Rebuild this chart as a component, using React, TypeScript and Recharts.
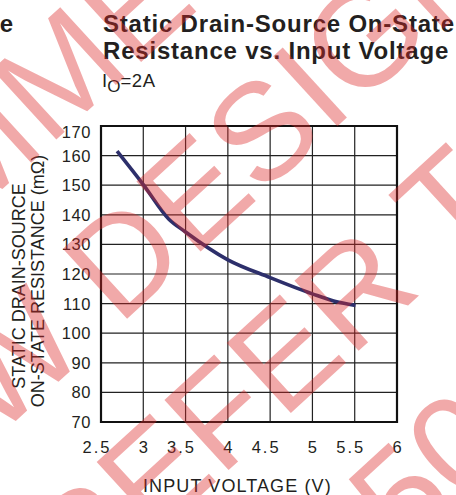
import React from "react";
import {
  LineChart,
  Line,
  XAxis,
  YAxis,
  CartesianGrid,
  ReferenceArea,
} from "recharts";

// ---- data ----
const VOLTAGE = [2.69, 3.0, 3.3, 3.5, 4.0, 4.5, 5.0, 5.25, 5.51];
const RESISTANCE = [161.5, 150.2, 138.6, 134.2, 124.8, 118.8, 113.3, 110.9, 109.4];
const X_TICKS = [2.5, 3, 3.5, 4, 4.5, 5, 5.5, 6];
const X_TICK_LABELS = ["2.5", "3", "3.5", "4", "4.5", "5", "5.5", "6"];
const Y_TICKS = [70, 80, 90, 100, 110, 120, 130, 140, 150, 160, 170];

const TITLE_LINES = ["Static Drain-Source On-State", "Resistance vs. Input Voltage"];
const Y_LABEL_LINES = ["STATIC DRAIN-SOURCE", "ON-STATE RESISTANCE (mΩ)"];
const X_LABEL = "INPUT VOLTAGE (V)";

const data = VOLTAGE.map((v, i) => ({ v, r: RESISTANCE[i] }));

const FONT = "'Liberation Sans', Arial, Helvetica, sans-serif";
const TEXT_COLOR = "#231f20";

const XTick = (props: any) => {
  const { x, y, payload } = props;
  const idx = X_TICKS.indexOf(payload.value);
  const label = idx >= 0 ? X_TICK_LABELS[idx] : String(payload.value);
  const dec = label.includes(".");
  return (
    <text
      x={x + (dec ? -4 : 0)}
      y={y + 23}
      textAnchor="middle"
      fontFamily={FONT}
      fontSize={16.5}
      letterSpacing={dec ? 2 : 0}
      fill={TEXT_COLOR}
    >
      {label}
    </text>
  );
};

const YTick = (props: any) => {
  const { y, payload } = props;
  const top = payload.value === 170;
  return (
    <text
      x={91}
      y={y + (top ? 12 : 6)}
      textAnchor="end"
      fontFamily={FONT}
      fontSize={16.5}
      letterSpacing={0.6}
      fill={TEXT_COLOR}
    >
      {payload.value}
    </text>
  );
};

const WM_FILL = "rgb(220,40,40)";

export default function App() {
  return (
    <div
      style={{
        position: "absolute",
        left: 0,
        top: 0,
        width: 456,
        height: 495,
        background: "#fff",
        overflow: "hidden",
      }}
    >
      <LineChart
        width={456}
        height={495}
        data={data}
        margin={{ top: 126, right: 59, bottom: 43, left: 71 }}
      >
        <CartesianGrid stroke="#222" strokeWidth={1.2} />
        <XAxis
          type="number"
          dataKey="v"
          domain={[2.5, 6]}
          ticks={X_TICKS}
          axisLine={false}
          tickLine={false}
          height={30}
          tick={<XTick />}
          interval={0}
        />
        <YAxis
          type="number"
          domain={[70, 170]}
          ticks={Y_TICKS}
          axisLine={false}
          tickLine={false}
          width={30}
          tick={<YTick />}
          interval={0}
        />
        <ReferenceArea
          x1={2.5}
          x2={6}
          y1={70}
          y2={170}
          fill="none"
          fillOpacity={0}
          stroke="#111"
          strokeWidth={2.2}
          ifOverflow="visible"
        />
        <Line
          type="monotone"
          dataKey="r"
          stroke="#2d2f6b"
          strokeWidth={3.6}
          dot={false}
          isAnimationActive={false}
        />
      </LineChart>
      <svg
        width={456}
        height={495}
        style={{ position: "absolute", left: 0, top: 0, pointerEvents: "none" }}
      >
        <text
          x={13}
          y={31.7}
          textAnchor="end"
          fontFamily={FONT}
          fontWeight="bold"
          fontSize={24}
          fill={TEXT_COLOR}
        >
          e
        </text>
        {TITLE_LINES.map((t, i) => (
          <text
            key={t}
            x={103}
            y={31.7 + i * 26.8}
            fontFamily={FONT}
            fontWeight="bold"
            fontSize={24}
            letterSpacing={0.8}
            fill={TEXT_COLOR}
          >
            {t}
          </text>
        ))}
        <text x={102} y={86.5} fontFamily={FONT} fontSize={18.5} fill={TEXT_COLOR}>
          <tspan fontSize={18.5}>I</tspan>
          <tspan fontSize={17} dy={5}>
            O
          </tspan>
          <tspan fontSize={18.5} dy={-5} letterSpacing={0.6}>
            =2A
          </tspan>
        </text>
        {Y_LABEL_LINES.map((t, i) => (
          <text
            key={t}
            transform={`translate(${25 + i * 18.5}, ${i === 0 ? 286 : 281}) rotate(-90)`}
            textAnchor="middle"
            fontFamily={FONT}
            fontSize={18}
            fill={TEXT_COLOR}
          >
            {t}
          </text>
        ))}
        <text
          x={143}
          y={491.5}
          fontFamily={FONT}
          fontSize={18}
          letterSpacing={1.1}
          fill={TEXT_COLOR}
        >
          {X_LABEL}
        </text>
        <g
          transform="rotate(-42.5)"
          fontFamily={FONT}
          fontSize={138}
          fill={WM_FILL}
          fillOpacity={0.4}
        >
          <text x={-905} y={141}>NOT RECOMMENDED</text>
          <text x={-171} y={321} textAnchor="end">NEW</text>
          <text x={-133} y={321}>DESIGN</text>
          <text x={-352} y={501}>REFER TO</text>
          <text x={-78} y={684}>50</text>
        </g>
      </svg>
    </div>
  );
}
